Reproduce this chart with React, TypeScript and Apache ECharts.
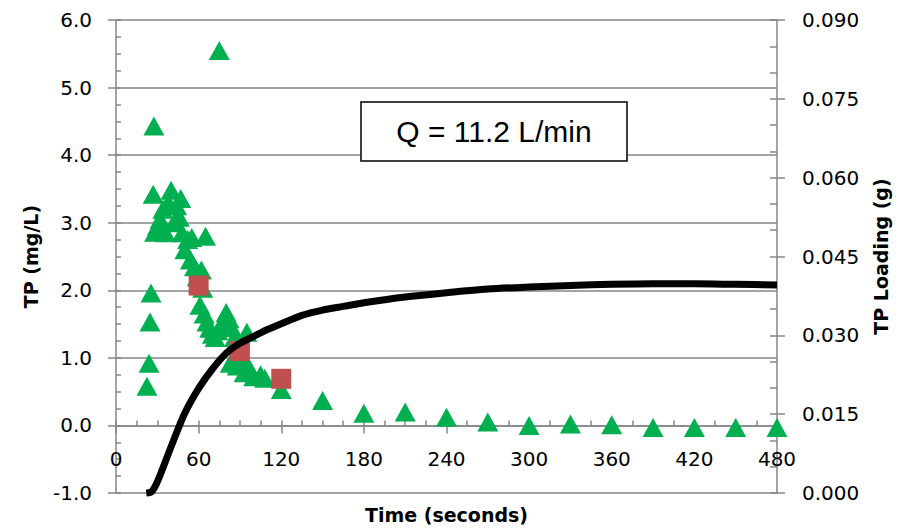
import React, { useEffect, useRef } from "react";
import * as echarts from "echarts";

// TP concentration measured (triangles), mg/L
const tpTime: number[] = [22.5, 24, 24.7, 25.4, 27.5, 27, 28, 30, 32, 34, 36, 38, 40, 42, 44, 46, 47, 48, 50, 52, 54, 55, 57, 59, 60, 62, 63, 65, 61, 64, 66, 68, 70, 72, 74, 75, 76, 78, 80, 82, 84, 86, 88, 92, 95, 83, 88, 93, 97, 100, 105, 108, 120, 150, 180, 210, 240, 270, 300, 330, 360, 390, 420, 450, 480];
const tpValue: number[] = [0.58, 0.92, 1.53, 1.96, 4.43, 3.42, 2.86, 2.95, 3.05, 3.2, 2.85, 3.3, 3.48, 3.0, 3.25, 3.08, 3.36, 2.85, 2.6, 2.75, 2.45, 2.78, 2.35, 2.2, 2.1, 2.3, 2.03, 2.8, 1.78, 1.65, 1.53, 1.44, 1.35, 1.3, 1.4, 5.55, 1.45, 1.55, 1.67, 1.58, 1.45, 1.3, 1.2, 1.0, 1.38, 0.92, 0.88, 0.78, 0.84, 0.72, 0.75, 0.7, 0.53, 0.37, 0.18, 0.2, 0.12, 0.05, 0.0, 0.02, 0.01, -0.03, -0.03, -0.03, -0.03];

// Composite samples (squares), mg/L
const sqTime: number[] = [60, 90, 120];
const sqValue: number[] = [2.07, 1.1, 0.69];

// Cumulative TP loading (g)
const loadTime: number[] = [22, 26, 30, 40, 50, 60, 70, 80, 90, 100, 110, 120, 135, 150, 165, 180, 210, 240, 270, 300, 330, 360, 390, 420, 450, 480];
const loadValue: number[] = [0, 0.0003, 0.0021, 0.0088, 0.0152, 0.0199, 0.0236, 0.0266, 0.0285, 0.0298, 0.0311, 0.0322, 0.0338, 0.0348, 0.0355, 0.0362, 0.0373, 0.0381, 0.0388, 0.0392, 0.0395, 0.0397, 0.0398, 0.0398, 0.0397, 0.0396];

const xTicks = { min: 0, max: 480, interval: 60 };
const leftTicks = { min: -1, max: 6, interval: 1 };
const rightTicks = { min: 0, max: 0.09, interval: 0.015 };

const annotation = "Q = 11.2 L/min";

const FONT = "DejaVu Sans";
const AXIS_COLOR = "#868686";

const GRID_TOP = 20;
const GRID_BOTTOM = 36;
const CHART_H = 529;

export default function App() {
  const ref = useRef<HTMLDivElement>(null);
  useEffect(() => {
    if (!ref.current) return;
    const chart = echarts.init(ref.current, undefined, { renderer: "svg" });
    // place the x axis where the left axis reads 0
    const plotH = CHART_H - GRID_TOP - GRID_BOTTOM;
    const zeroOffset = -plotH * (0 - leftTicks.min) / (leftTicks.max - leftTicks.min);
    const lineStyle = { color: AXIS_COLOR, width: 1.5 };
    const labelStyle = { color: "#000", fontFamily: FONT, fontSize: 20 };
    const nameStyle = { color: "#000", fontFamily: FONT, fontSize: 19, fontWeight: "bold" as const };
    chart.setOption({
      animation: false,
      backgroundColor: "#fff",
      grid: { left: 116, right: 125, top: GRID_TOP, bottom: GRID_BOTTOM, containLabel: false, outerBoundsMode: "none" },
      xAxis: [
        {
          type: "value",
          ...xTicks,
          position: "bottom",
          offset: zeroOffset,
          name: "Time (seconds)",
          nameLocation: "middle",
          nameGap: 80,
          nameTextStyle: nameStyle,
          axisLine: { show: true, onZero: false, lineStyle },
          axisTick: { show: true, inside: false, length: 8, lineStyle },
          axisLabel: { ...labelStyle, margin: 24, formatter: (v: number) => String(v) },
          splitLine: { show: false },
        },
        {
          type: "value",
          ...xTicks,
          position: "bottom",
          offset: zeroOffset,
          axisLine: { show: false, onZero: false },
          axisTick: { show: true, inside: true, length: 5, lineStyle },
          minorTick: { show: true, splitNumber: 4, length: 5, lineStyle },
          axisLabel: { show: false },
          splitLine: { show: false },
        },
      ],
      yAxis: [
        {
          type: "value",
          ...leftTicks,
          position: "left",
          name: "TP (mg/L)",
          nameLocation: "middle",
          nameGap: 76,
          nameRotate: 90,
          nameTextStyle: nameStyle,
          axisLine: { show: true, onZero: false, lineStyle },
          axisTick: { show: true, inside: false, length: 8, lineStyle },
          axisLabel: { ...labelStyle, margin: 24, formatter: (v: number) => v.toFixed(1) },
          splitLine: { show: true, lineStyle: { color: AXIS_COLOR, width: 1.5 } },
        },
        {
          type: "value",
          ...rightTicks,
          position: "right",
          name: "TP Loading (g)",
          nameLocation: "middle",
          nameGap: 94,
          nameRotate: 90,
          nameTextStyle: nameStyle,
          axisLine: { show: true, onZero: false, lineStyle },
          axisTick: { show: true, inside: false, length: 8, lineStyle },
          axisLabel: { ...labelStyle, margin: 25, formatter: (v: number) => v.toFixed(3) },
          splitLine: { show: false },
        },
        {
          type: "value",
          ...leftTicks,
          position: "left",
          axisLine: { show: false, onZero: false },
          axisTick: { show: true, inside: true, length: 5, lineStyle },
          minorTick: { show: true, splitNumber: 4, length: 5, lineStyle },
          axisLabel: { show: false },
          splitLine: { show: false },
        },
        {
          type: "value",
          ...rightTicks,
          position: "right",
          axisLine: { show: false, onZero: false },
          axisTick: { show: true, inside: true, length: 7, lineStyle },
          minorTick: { show: true, splitNumber: 3, length: 7, lineStyle },
          axisLabel: { show: false },
          splitLine: { show: false },
        },
      ],
      series: [
        {
          type: "scatter",
          name: "TP",
          xAxisIndex: 0,
          yAxisIndex: 0,
          symbol: "triangle",
          symbolSize: [21, 19],
          clip: false,
          itemStyle: { color: "#00B050", opacity: 1 },
          data: tpTime.map((t, i) => [t, tpValue[i]]),
          z: 2,
        },
        {
          type: "scatter",
          name: "Composite",
          xAxisIndex: 0,
          yAxisIndex: 0,
          symbol: "rect",
          symbolSize: 20,
          clip: false,
          itemStyle: { color: "#C0504D", opacity: 1 },
          data: sqTime.map((t, i) => [t, sqValue[i]]),
          z: 3,
        },
        {
          type: "line",
          name: "TP Loading",
          xAxisIndex: 0,
          yAxisIndex: 1,
          smooth: 0.3,
          showSymbol: false,
          symbol: "none",
          clip: false,
          lineStyle: { color: "#000", width: 7 },
          data: loadTime.map((t, i) => [t, loadValue[i]]),
          z: 4,
        },
      ],
      graphic: [
        {
          type: "rect",
          shape: { x: 361, y: 102, width: 266, height: 59 },
          style: { fill: "#fff", stroke: "#000", lineWidth: 1.5 },
          z: 10,
        },
        {
          type: "text",
          x: 494,
          y: 131.5,
          style: {
            text: annotation,
            fill: "#000",
            font: "30px 'Liberation Sans', Arial, sans-serif",
            align: "center",
            verticalAlign: "middle",
          },
          z: 11,
        },
      ],
    });
    return () => chart.dispose();
  }, []);
  return <div ref={ref} style={{ position: "fixed", left: 0, top: 0, width: 902, height: 529 }} />;
}
